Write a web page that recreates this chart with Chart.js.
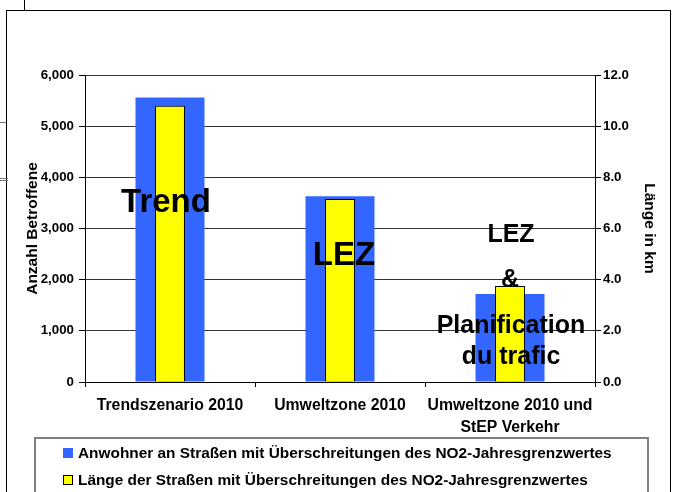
<!DOCTYPE html>
<html>
<head>
<meta charset="utf-8">
<script src="https://cdn.jsdelivr.net/npm/chart.js@4/dist/chart.umd.min.js"></script>
<style>
  html, body { margin:0; padding:0; background:#fff; }
  #wrap { width:675px; height:492px; position:relative; }
</style>
</head>
<body>
<div id="wrap"><canvas id="chart" width="675" height="492"></canvas></div>
<script>
// Daten
const categories = [['Trendszenario 2010'], ['Umweltzone 2010'], ['Umweltzone 2010 und', 'StEP Verkehr']];
const residents = [5560, 3630, 1720];      // Anzahl Betroffene (linke Achse)
const lengthKm = [10.8, 7.15, 3.75];       // Länge in km (rechte Achse)
const seriesNames = [
  'Anwohner an Straßen mit Überschreitungen des NO2-Jahresgrenzwertes',
  'Länge der Straßen mit Überschreitungen des NO2-Jahresgrenzwertes'
];
const leftTicks = [0, 1000, 2000, 3000, 4000, 5000, 6000];
const rightTicks = [0, 2, 4, 6, 8, 10, 12];

const FONT = "'Liberation Sans', Arial, sans-serif";
const BLUE = '#3366FF';
const YELLOW = '#FFFF00';

// Beschriftungen in den Balken (Kategorie + Wert auf linker Achse = Grundlinie)
const notes = [
  { cat: 0, at: 3320, dx: -4, size: 33, text: 'Trend' },
  { cat: 1, at: 2290, dx: 4, size: 33, text: 'LEZ' },
  { cat: 2, at: 2740, dx: 1, size: 25, text: 'LEZ' },
  { cat: 2, at: 1860, dx: 0, size: 25, text: '&' },
  { cat: 2, at: 960, dx: 1, size: 25, text: 'Planification' },
  { cat: 2, at: 350, dx: 1, size: 25, text: 'du trafic' }
];

const decor = {
  id: 'decor',
  beforeDraw(chart){
    const c = chart.ctx;
    c.save();
    c.fillStyle = '#fff';
    c.fillRect(0, 0, chart.width, chart.height);
    c.restore();
  },
  afterDraw(chart){
    const c = chart.ctx;
    const x = chart.scales.x, y = chart.scales.y;
    c.save();
    // Rahmen
    c.strokeStyle = '#000';
    c.lineWidth = 1;
    c.strokeRect(6.5, 10.5, 664, 520);
    c.beginPath();
    c.moveTo(24.5, 0); c.lineTo(24.5, 10);
    c.stroke();
    c.strokeStyle = '#777';
    c.beginPath();
    c.moveTo(0, 122.5); c.lineTo(6, 122.5);
    c.moveTo(0, 178.5); c.lineTo(8, 178.5);
    c.moveTo(0, 180.5); c.lineTo(8, 180.5);
    c.stroke();

    // Textbeschriftungen
    c.fillStyle = '#000';
    c.textAlign = 'center';
    c.textBaseline = 'alphabetic';
    notes.forEach(n => {
      c.font = `bold ${n.size}px ${FONT}`;
      c.fillText(n.text, x.getPixelForValue(n.cat) + n.dx, y.getPixelForValue(n.at));
    });

    // Legende
    c.strokeStyle = '#808080';
    c.lineWidth = 2;
    c.strokeRect(35, 438, 613, 100);
    const colors = [BLUE, YELLOW];
    c.textAlign = 'left';
    c.textBaseline = 'middle';
    c.font = `bold 15.4px ${FONT}`;
    seriesNames.forEach((name, i) => {
      const ty = 453 + i * 27;
      c.fillStyle = colors[i];
      c.fillRect(63, ty - 5, 10, 10);
      if (i === 1){
        c.strokeStyle = '#000'; c.lineWidth = 1;
        c.strokeRect(63.5, ty - 4.5, 9, 9);
      }
      c.fillStyle = '#000';
      c.fillText(name, 78, ty + 1);
    });
    c.restore();
  }
};

new Chart(document.getElementById('chart'), {
  type: 'bar',
  data: {
    labels: categories,
    datasets: [
      {
        label: seriesNames[0],
        data: residents,
        yAxisID: 'y',
        backgroundColor: BLUE,
        borderWidth: 0,
        grouped: false,
        categoryPercentage: 1,
        barPercentage: 0.406,
        order: 1
      },
      {
        label: seriesNames[1],
        data: lengthKm,
        yAxisID: 'y1',
        backgroundColor: YELLOW,
        borderColor: '#000',
        borderWidth: 1,
        grouped: false,
        categoryPercentage: 1,
        barPercentage: 0.176,
        order: 0
      }
    ]
  },
  options: {
    responsive: false,
    animation: false,
    layout: { padding: { left: 19, right: 12, top: 75, bottom: 0 } },
    plugins: { legend: { display: false }, tooltip: { enabled: false } },
    scales: {
      x: {
        afterFit: s => { s.height = 110; },
        grid: { offset: true, drawOnChartArea: false, color: '#000', tickLength: 5 },
        border: { color: '#000', width: 1 },
        ticks: { color: '#000', padding: 8, font: { family: FONT, size: 15.8, weight: 'bold', lineHeight: 1.38 }, maxRotation: 0 }
      },
      y: {
        position: 'left',
        min: 0, max: 6000,
        afterFit: s => { s.width = 66; },
        afterBuildTicks: s => { s.ticks = leftTicks.map(v => ({ value: v })); },
        grid: { color: '#333', lineWidth: 1, tickLength: 6, tickColor: '#000' },
        border: { color: '#000', width: 1 },
        ticks: {
          color: '#000', padding: 5,
          font: { family: FONT, size: 13.3, weight: 'bold' },
          callback: v => v.toLocaleString('en-US')
        },
        title: { display: true, text: 'Anzahl Betroffene', color: '#000', font: { family: FONT, size: 15.5, weight: 'bold' } }
      },
      y1: {
        position: 'right',
        min: 0, max: 12,
        afterFit: s => { s.width = 68; },
        afterBuildTicks: s => { s.ticks = rightTicks.map(v => ({ value: v })); },
        grid: { drawOnChartArea: false, color: '#000', tickLength: 6 },
        border: { color: '#000', width: 1 },
        ticks: {
          color: '#000', padding: 2,
          font: { family: FONT, size: 13.3, weight: 'bold' },
          callback: v => v.toFixed(1)
        },
        title: { display: true, text: 'Länge in km', color: '#000', font: { family: FONT, size: 15.5, weight: 'bold' } }
      }
    }
  },
  plugins: [decor]
});
</script>
</body>
</html>
